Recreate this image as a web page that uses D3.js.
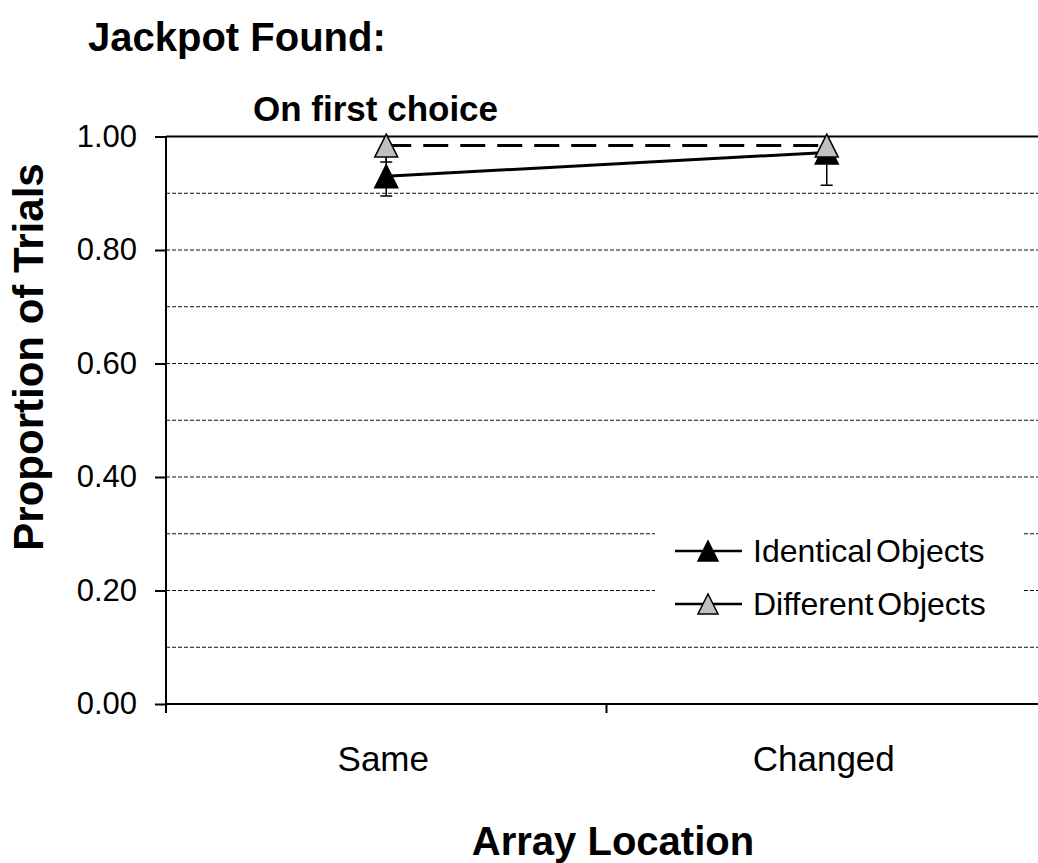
<!DOCTYPE html>
<html>
<head>
<meta charset="utf-8">
<script src="https://cdn.jsdelivr.net/npm/d3@7"></script>
<style>
  html, body { margin: 0; padding: 0; background: #fff; }
  svg { display: block; font-family: "Liberation Sans", Arial, Helvetica, sans-serif; }
</style>
</head>
<body>
<svg id="chart" width="1038" height="863"></svg>
<script>
// ---- data ----
const categories = ["Same", "Changed"];
const identicalValues = [0.93, 0.972];
const identicalErrors = [0.035, 0.058];
const differentValues = [0.984, 0.984];
const differentErrors = [0.029, 0.02];
const yTickValues = [0, 0.2, 0.4, 0.6, 0.8, 1.0];
const yTickLabels = ["0.00", "0.20", "0.40", "0.60", "0.80", "1.00"];
const gridValues = [0.1, 0.2, 0.3, 0.4, 0.5, 0.6, 0.7, 0.8, 0.9];
const seriesNames = ["Identical Objects", "Different Objects"];

const titleText = "Jackpot Found:";
const subtitleText = "On first choice";
const xTitle = "Array Location";
const yTitle = "Proportion of Trials";

// ---- layout ----
const plot = { left: 166, right: 1047, top: 136.5, bottom: 704 };
const svg = d3.select("#chart");

const x = d3.scaleBand().domain(categories).range([plot.left, plot.right]).padding(0);
const y = d3.scaleLinear().domain([0, 1]).range([plot.bottom, plot.top]);
const cx = c => x(c) + x.bandwidth() / 2;

// clip
svg.append("defs").append("clipPath").attr("id", "plotclip")
  .append("rect").attr("x", plot.left).attr("y", plot.top)
  .attr("width", plot.right - plot.left).attr("height", plot.bottom - plot.top);

// gridlines
svg.append("g").selectAll("line").data(gridValues).join("line")
  .attr("x1", plot.left).attr("x2", plot.right)
  .attr("y1", d => y(d)).attr("y2", d => y(d))
  .attr("stroke", "#111").attr("stroke-width", 1).attr("stroke-dasharray", "4,2");

// top line at 1.0
svg.append("line").attr("x1", plot.left).attr("x2", plot.right)
  .attr("y1", y(1)).attr("y2", y(1)).attr("stroke", "#000").attr("stroke-width", 2);

// y axis
const yAxis = d3.axisLeft(y).tickValues(yTickValues)
  .tickFormat((d, i) => yTickLabels[i]).tickSize(11).tickPadding(18);
const gy = svg.append("g").attr("transform", `translate(${plot.left},0)`).call(yAxis);
gy.select(".domain").remove();
gy.selectAll(".tick line").attr("stroke", "#000").attr("stroke-width", 2);
gy.selectAll(".tick text").attr("font-size", 31).attr("fill", "#000")
  .attr("font-family", "'Liberation Sans', Arial, sans-serif");
svg.append("line").attr("x1", plot.left).attr("x2", plot.left)
  .attr("y1", plot.top).attr("y2", plot.bottom + 8)
  .attr("stroke", "#000").attr("stroke-width", 2);

// x axis
svg.append("line").attr("x1", plot.left).attr("x2", plot.right)
  .attr("y1", plot.bottom).attr("y2", plot.bottom)
  .attr("stroke", "#000").attr("stroke-width", 2);
const boundaries = categories.map(c => x(c)).concat([plot.right]);
svg.append("g").selectAll("line").data(boundaries).join("line")
  .attr("x1", d => d).attr("x2", d => d)
  .attr("y1", plot.bottom).attr("y2", plot.bottom + 9)
  .attr("stroke", "#000").attr("stroke-width", 2);
svg.append("g").selectAll("text").data(categories).join("text")
  .attr("x", d => cx(d) - 3).attr("y", 771)
  .attr("text-anchor", "middle").attr("font-size", 35).attr("fill", "#000")
  .text(d => d);

// titles
svg.append("text").attr("x", 88).attr("y", 51).attr("font-size", 40)
  .attr("font-weight", "bold").text(titleText);
svg.append("text").attr("x", 253).attr("y", 121).attr("font-size", 35)
  .attr("font-weight", "bold").text(subtitleText);
svg.append("text").attr("x", 613).attr("y", 855)
  .attr("text-anchor", "middle").attr("font-size", 40)
  .attr("font-weight", "bold").text(xTitle);
svg.append("text").attr("transform", "translate(43,357) rotate(-90)")
  .attr("text-anchor", "middle").attr("font-size", 42)
  .attr("font-weight", "bold").text(yTitle);

// marker
const tri = (s) => `M0,${-s / 2}L${s / 2},${s / 2}L${-s / 2},${s / 2}Z`;
const markerSize = 23;

function drawSeries(values, errors, fill, dash) {
  const pts = categories.map((c, i) => [cx(c), y(values[i])]);
  svg.append("path").attr("d", d3.line()(pts))
    .attr("fill", "none").attr("stroke", "#000").attr("stroke-width", 3)
    .attr("stroke-dasharray", dash);
  const eb = svg.append("g").attr("clip-path", "url(#plotclip)");
  categories.forEach((c, i) => {
    const hi = y(values[i] + errors[i]), lo = y(values[i] - errors[i]);
    eb.append("line").attr("x1", cx(c)).attr("x2", cx(c)).attr("y1", hi).attr("y2", lo)
      .attr("stroke", "#000").attr("stroke-width", 1.5);
    [hi, lo].forEach(yy => eb.append("line")
      .attr("x1", cx(c) - 6).attr("x2", cx(c) + 6).attr("y1", yy).attr("y2", yy)
      .attr("stroke", "#000").attr("stroke-width", 1.5));
  });
  svg.append("g").selectAll("path").data(pts).join("path")
    .attr("d", tri(markerSize))
    .attr("transform", d => `translate(${d[0]},${d[1]})`)
    .attr("fill", fill).attr("stroke", "#000").attr("stroke-width", 1.5);
}
drawSeries(identicalValues, identicalErrors, "#000", null);
drawSeries(differentValues, differentErrors, "#c0c0c0", "25,12");

// legend
const lg = svg.append("g");
lg.append("rect").attr("x", 655).attr("y", 522).attr("width", 367).attr("height", 113)
  .attr("fill", "#fff");
const legendFills = ["#000", "#c0c0c0"];
const legendY = [551, 604];
seriesNames.forEach((name, i) => {
  lg.append("line").attr("x1", 675).attr("x2", 742)
    .attr("y1", legendY[i]).attr("y2", legendY[i])
    .attr("stroke", "#000").attr("stroke-width", 2.7);
  lg.append("path").attr("d", tri(20))
    .attr("transform", `translate(708,${legendY[i]})`)
    .attr("fill", legendFills[i]).attr("stroke", "#000").attr("stroke-width", 1.5);
  lg.append("text").attr("x", 753).attr("y", legendY[i]).attr("dy", "0.35em")
    .attr("font-size", 32).attr("word-spacing", "-5px").text(name);
});
</script>
</body>
</html>
